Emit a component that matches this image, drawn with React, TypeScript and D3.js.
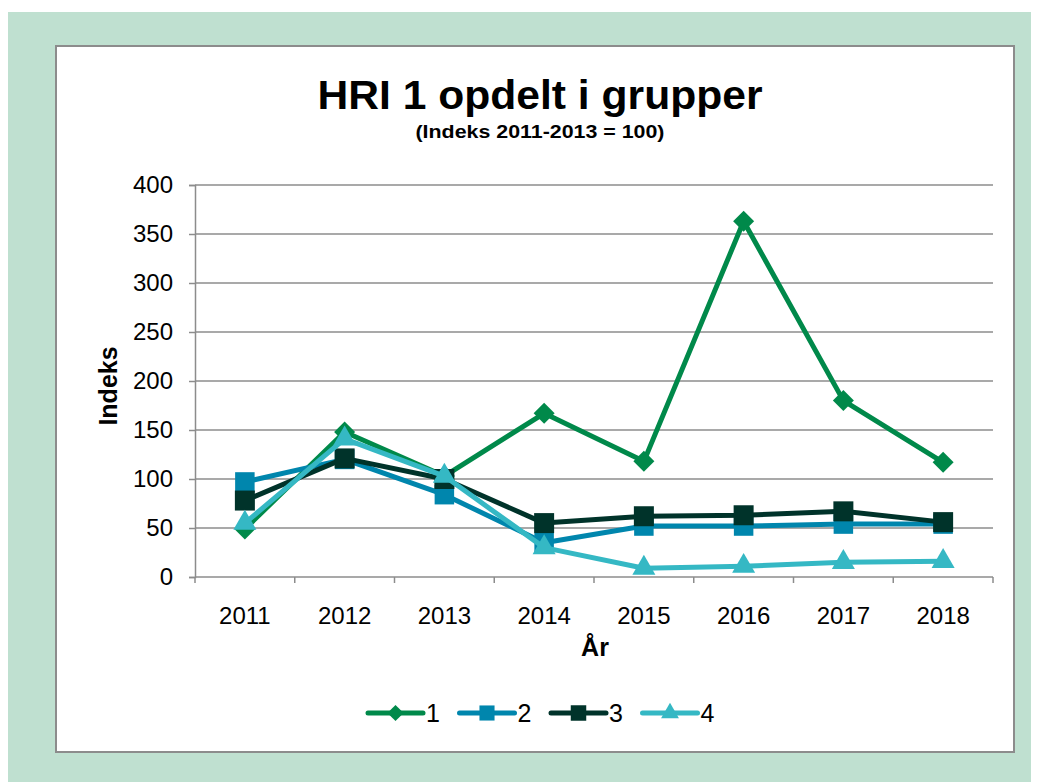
import React, { useRef, useEffect } from 'react';
import * as d3 from 'd3';

const years = ['2011', '2012', '2013', '2014', '2015', '2016', '2017', '2018'];
const seriesNames = ['1', '2', '3', '4'];
const group1 = [49, 148, 103, 167, 118, 363, 180, 117];
const group2 = [97, 120, 84, 35, 52, 52, 54, 54];
const group3 = [78, 121, 100, 55, 62, 63, 67, 56];
const group4 = [55, 141, 103, 30, 9, 11, 15, 16];
const yTicks = [0, 50, 100, 150, 200, 250, 300, 350, 400];

const colors = ['#00894a', '#0086ad', '#00332a', '#35b8c4'];
const symbols = [d3.symbolSquare, d3.symbolSquare, d3.symbolSquare, d3.symbolTriangle];
const symbolSizes = [220, 380, 400, 230];
const rotations = [45, 0, 0, 0];

const App = () => {
  const ref = useRef(null);

  useEffect(() => {
    const svg = d3.select(ref.current);
    svg.selectAll('*').remove();
    const font = 'Liberation Sans, Arial, sans-serif';

    svg.append('rect').attr('x', 0).attr('y', 4).attr('width', 1031).attr('height', 770).attr('fill', '#bfe0d0');
    svg.append('rect').attr('x', 48).attr('y', 38).attr('width', 958).attr('height', 706)
      .attr('fill', '#fff').attr('stroke', '#8c8c8c').attr('stroke-width', 2);

    const margin = { left: 187, top: 177, right: 985, bottom: 569 };
    const x = d3.scaleBand().domain(years).range([margin.left, margin.right]);
    const y = d3.scaleLinear().domain([0, 400]).range([margin.bottom, margin.top]);

    // grid
    svg.append('g').selectAll('line').data(yTicks.filter(d => d > 0)).enter().append('line')
      .attr('x1', margin.left).attr('x2', margin.right)
      .attr('y1', d => y(d)).attr('y2', d => y(d))
      .attr('stroke', '#8c8c8c').attr('stroke-width', 1.5);

    const yAxis = svg.append('g').attr('transform', `translate(${margin.left},0)`)
      .call(d3.axisLeft(y).tickValues(yTicks).tickSize(6).tickPadding(16));
    const xAxis = svg.append('g').attr('transform', `translate(0,${margin.bottom})`)
      .call(d3.axisBottom(x).tickSize(0).tickPadding(30));
    // x ticks at band edges
    svg.append('g').selectAll('line').data(d3.range(years.length + 1)).enter().append('line')
      .attr('x1', i => margin.left + i * x.bandwidth()).attr('x2', i => margin.left + i * x.bandwidth())
      .attr('y1', margin.bottom).attr('y2', margin.bottom + 6)
      .attr('stroke', '#8c8c8c').attr('stroke-width', 1.5);
    [yAxis, xAxis].forEach(a => {
      a.attr('font-size', 24).attr('font-family', font);
      a.select('.domain').attr('stroke', '#8c8c8c').attr('stroke-width', 1.5);
      a.selectAll('.tick line').attr('stroke', '#8c8c8c').attr('stroke-width', 1.5);
      a.selectAll('text').attr('fill', '#000');
    });
    xAxis.select('.domain').attr('d', `M${margin.left},0H${margin.right}`);

    const data = [group1, group2, group3, group4];
    const line = d3.line<number>().x((d, i) => x(years[i])! + x.bandwidth() / 2).y(d => y(d));

    data.forEach((s, k) => {
      svg.append('path').datum(s).attr('d', line).attr('fill', 'none')
        .attr('stroke', colors[k]).attr('stroke-width', 5).attr('stroke-linejoin', 'round');
      svg.append('g').selectAll('path').data(s).enter().append('path')
        .attr('d', d3.symbol().type(symbols[k]).size(symbolSizes[k]))
        .attr('transform', (d, i) => `translate(${x(years[i])! + x.bandwidth() / 2},${y(d)}) rotate(${rotations[k]})`)
        .attr('fill', colors[k]);
    });

    svg.append('text').attr('x', 532).attr('y', 101).attr('text-anchor', 'middle')
      .attr('textLength', 445).attr('lengthAdjust', 'spacingAndGlyphs')
      .attr('font-family', font).attr('font-weight', 'bold').attr('font-size', 41).text('HRI 1 opdelt i grupper');
    svg.append('text').attr('x', 532).attr('y', 130).attr('text-anchor', 'middle')
      .attr('textLength', 249).attr('lengthAdjust', 'spacingAndGlyphs')
      .attr('font-family', font).attr('font-weight', 'bold').attr('font-size', 18).text('(Indeks 2011-2013 = 100)');
    svg.append('text').attr('x', 587).attr('y', 648).attr('text-anchor', 'middle')
      .attr('font-family', font).attr('font-weight', 'bold').attr('font-size', 25).text('År');
    svg.append('text').attr('transform', `translate(109,${(margin.top + margin.bottom) / 2 + 5}) rotate(-90)`)
      .attr('text-anchor', 'middle')
      .attr('font-family', font).attr('font-weight', 'bold').attr('font-size', 25).text('Indeks');

    const legend = svg.append('g').attr('transform', 'translate(360,705)');
    seriesNames.forEach((n, k) => {
      const g = legend.append('g').attr('transform', `translate(${k * 91.5},0)`);
      g.append('line').attr('x1', 0).attr('x2', 55).attr('y1', 0).attr('y2', 0)
        .attr('stroke', colors[k]).attr('stroke-width', 5).attr('stroke-linecap', 'round');
      g.append('path').attr('d', d3.symbol().type(symbols[k]).size(symbolSizes[k] * 0.6))
        .attr('transform', `translate(27.5,0) rotate(${rotations[k]})`).attr('fill', colors[k]);
      g.append('text').attr('x', 58).attr('y', 9).attr('font-family', font).attr('font-size', 25).text(n);
    });
  }, []);

  return <svg ref={ref} width="1031" height="774" style={{ display: 'block' }}></svg>;
};

export default App;
